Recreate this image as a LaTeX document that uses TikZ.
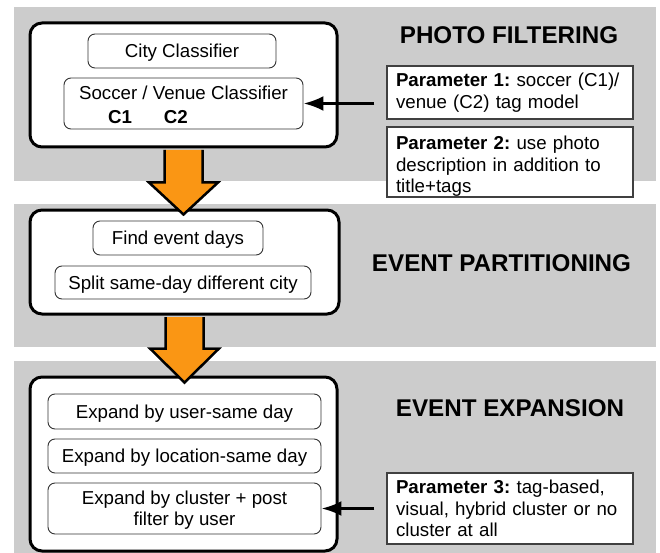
\documentclass[tikz,border=0pt]{standalone}
\usepackage{fontspec}
\setmainfont{Liberation Sans}
\usetikzlibrary{arrows.meta,calc}
\definecolor{bandgray}{RGB}{204,204,204}
\definecolor{arroworange}{RGB}{250,150,20}
\begin{document}
\frenchspacing
\begin{tikzpicture}[x=1pt,y=-1pt,
  band/.style={fill=bandgray,draw=none},
  mainbox/.style={draw=black,line width=3pt,rounded corners=12pt,fill=white,minimum width=307pt,inner sep=0pt},
  subbox/.style={draw=black!80,line width=0.9pt,rounded corners=7pt,fill=white,inner sep=0pt,align=center,font=\fontsize{18.7}{21}\selectfont\frenchspacing},
  oneline/.style={text height=15pt,text depth=1.8pt},
  parbox/.style={draw=black!75,line width=1.3pt,fill=white,text width=228pt,inner xsep=9pt,inner ysep=0pt,align=left,font=\fontsize{18.7}{21.5}\selectfont\frenchspacing},
  heading/.style={font=\fontsize{24.2}{28}\selectfont\bfseries},
  conn/.style={line width=3pt,-{Latex[length=20pt,width=15pt]}},
  bigarrow/.style={fill=arroworange,draw=black,line width=2.5pt,line join=miter}
]
\useasboundingbox (0,0) rectangle (660,553);
% bands
\fill[band] (14,7) rectangle (656,181);
\fill[band] (14,204) rectangle (656,347);
\fill[band] (14,361) rectangle (656,553);

% main boxes
\node[mainbox,minimum height=124pt] (box1) at (183.5,85) {};
\node[mainbox,minimum width=309pt,minimum height=104pt] (box2) at (184.5,262) {};
\node[mainbox,minimum height=174pt] (box3) at (183.5,464) {};

% photo filtering
\node[subbox,oneline,minimum width=188pt,minimum height=34pt] (city) at (182,51) {City Classifier};
\node[subbox,minimum width=239pt,minimum height=51pt,align=left] (soccer) at (183.5,103.5)
  {\rule{0pt}{17pt}Soccer / Venue Classifier\\[3pt]\hspace*{29pt}\textbf{C1}\hspace{32pt}\textbf{C2}};
\node[heading] (h1) at (509,35) {PHOTO FILTERING};
\node[parbox,minimum height=53pt] (p1) at (510,92.5)
  {\textbf{Parameter 1:} soccer (C1)/\\venue (C2) tag model};
\node[parbox,minimum height=70pt] (p2) at (510,162)
  {\rule{0pt}{22pt}\textbf{Parameter 2:} use photo\\description in addition to\\title+tags};
\coordinate (a1) at ([xshift=-12pt]p1.west |- soccer.east);
\draw[conn] (a1) -- (soccer.east);

% event partitioning
\node[subbox,oneline,minimum width=170pt,minimum height=34pt] (find) at (178,238) {Find event days};
\node[subbox,oneline,minimum width=256pt,minimum height=33pt] (split) at (183,282.5) {Split same-day different city};
\node[heading] (h2) at (501.5,263) {EVENT PARTITIONING};

% event expansion
\node[subbox,oneline,minimum width=273pt,minimum height=35pt] (user) at (184.5,411.5) {Expand by user-same day};
\node[subbox,oneline,minimum width=273pt,minimum height=34pt] (loc) at (184.5,456) {Expand by location-same day};
\node[subbox,minimum width=273pt,minimum height=51pt] (clus) at (184.5,508.5) {\rule{0pt}{16pt}Expand by cluster + post\\filter by user};
\node[heading] (h3) at (510,408) {EVENT EXPANSION};
\node[parbox,minimum height=71pt] (p3) at (510,508.5)
  {\textbf{Parameter 3:} tag-based,\\visual, hybrid cluster or no\\cluster at all};
\coordinate (a3) at ([xshift=-12pt]p3.west |- clus.east);
\draw[conn] (a3) -- (clus.east);

% big orange arrows
\draw[bigarrow] ($(box1.south)+(-19,1.5)$) -- ($(box1.south)+(-19,34)$) -- ($(box1.south)+(-34.5,34)$)
  -- ($(box1.south)+(0,66)$) -- ($(box1.south)+(34.5,34)$) -- ($(box1.south)+(19,34)$) -- ($(box1.south)+(19,1.5)$);
\draw[bigarrow] ($(box2.south)+(-19,1.5)$) -- ($(box2.south)+(-19,33)$) -- ($(box2.south)+(-34.5,33)$)
  -- ($(box2.south)+(0,67)$) -- ($(box2.south)+(34.5,33)$) -- ($(box2.south)+(19,33)$) -- ($(box2.south)+(19,1.5)$);
\end{tikzpicture}
\end{document}
